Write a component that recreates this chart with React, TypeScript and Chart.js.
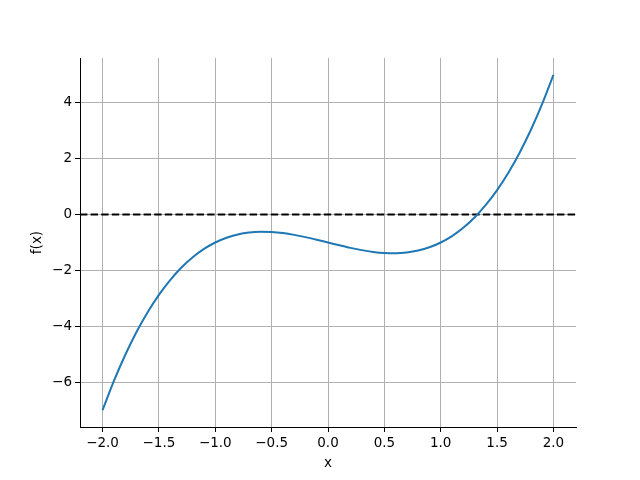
import React, { useEffect, useRef } from "react";
import { Chart, registerables } from "chart.js";

Chart.register(...registerables);

const xValues = [
  -2.0, -1.9, -1.8, -1.7, -1.6, -1.5, -1.4, -1.3, -1.2, -1.1, -1.0, -0.9, -0.8, -0.7,
  -0.6, -0.5, -0.4, -0.3, -0.2, -0.1, 0.0, 0.1, 0.2, 0.3, 0.4, 0.5, 0.6, 0.7, 0.8, 0.9,
  1.0, 1.1, 1.2, 1.3, 1.4, 1.5, 1.6, 1.7, 1.8, 1.9, 2.0,
];
const fValues = [
  -7.0, -5.959, -5.032, -4.213, -3.496, -2.875, -2.344, -1.897, -1.528, -1.231, -1.0,
  -0.829, -0.712, -0.643, -0.616, -0.625, -0.664, -0.727, -0.808, -0.901, -1.0, -1.099,
  -1.192, -1.273, -1.336, -1.375, -1.384, -1.357, -1.288, -1.171, -1.0, -0.769, -0.472,
  -0.103, 0.344, 0.875, 1.496, 2.213, 3.032, 3.959, 5.0,
];
const zeroLineX = [-2.2, 2.2];
const zeroLineY = [0, 0];
const xTicks = [-2.0, -1.5, -1.0, -0.5, 0.0, 0.5, 1.0, 1.5, 2.0];
const yTicks = [-6, -4, -2, 0, 2, 4];

const fmt = (s: string) => s.replace("-", "\u2212");

export default function App() {
  const ref = useRef<HTMLCanvasElement | null>(null);
  useEffect(() => {
    if (!ref.current) return;
    const font = { family: "DejaVu Sans", size: 13.5 };
    const chart = new Chart(ref.current, {
      type: "scatter",
      data: {
        datasets: [
          {
            data: xValues.map((x, i) => ({ x, y: fValues[i] })),
            showLine: true,
            borderColor: "#1f77b4",
            borderWidth: 2,
            pointRadius: 0,
            cubicInterpolationMode: "monotone",
          },
          {
            data: zeroLineX.map((x, i) => ({ x, y: zeroLineY[i] })),
            showLine: true,
            borderColor: "#000000",
            borderWidth: 2,
            borderDash: [7.4, 3.2],
            pointRadius: 0,
          },
        ],
      },
      options: {
        responsive: false,
        animation: false,
        layout: { padding: { top: 58, right: 64, left: 29, bottom: 8 } },
        plugins: { legend: { display: false }, tooltip: { enabled: false } },
        scales: {
          x: {
            type: "linear",
            min: -2.2,
            max: 2.2,
            afterBuildTicks: (s: any) => {
              s.ticks = xTicks.map((v) => ({ value: v }));
            },
            afterFit: (s: any) => {
              s.height = 45;
            },
            ticks: {
              color: "#000",
              font,
              padding: 3,
              maxRotation: 0,
              callback: (v: any) => fmt(Number(v).toFixed(1)),
            },
            grid: {
              color: "#b0b0b0",
              lineWidth: 1,
              drawTicks: true,
              tickLength: 5,
              tickColor: "#000",
              tickWidth: 1,
            },
            border: { display: true, color: "#000", width: 1 },
            title: { display: true, text: "x", color: "#000", font, padding: { top: 2, bottom: 0 } },
          },
          y: {
            type: "linear",
            min: -7.6,
            max: 5.6,
            afterBuildTicks: (s: any) => {
              s.ticks = yTicks.map((v) => ({ value: v }));
            },
            afterFit: (s: any) => {
              s.width = 51;
            },
            ticks: { color: "#000", font, padding: 3, callback: (v: any) => fmt(String(v)) },
            grid: {
              color: "#b0b0b0",
              lineWidth: 1,
              drawTicks: true,
              tickLength: 5,
              tickColor: "#000",
              tickWidth: 1,
            },
            border: { display: true, color: "#000", width: 1 },
            title: { display: true, text: "f(x)", color: "#000", font, padding: { top: 0, bottom: 0 } },
          },
        },
      },
    } as any);
    return () => chart.destroy();
  }, []);
  return (
    <div style={{ position: "fixed", left: 0, top: 0, width: 640, height: 480, background: "#fff" }}>
      <canvas ref={ref} width={640} height={480} />
    </div>
  );
}
